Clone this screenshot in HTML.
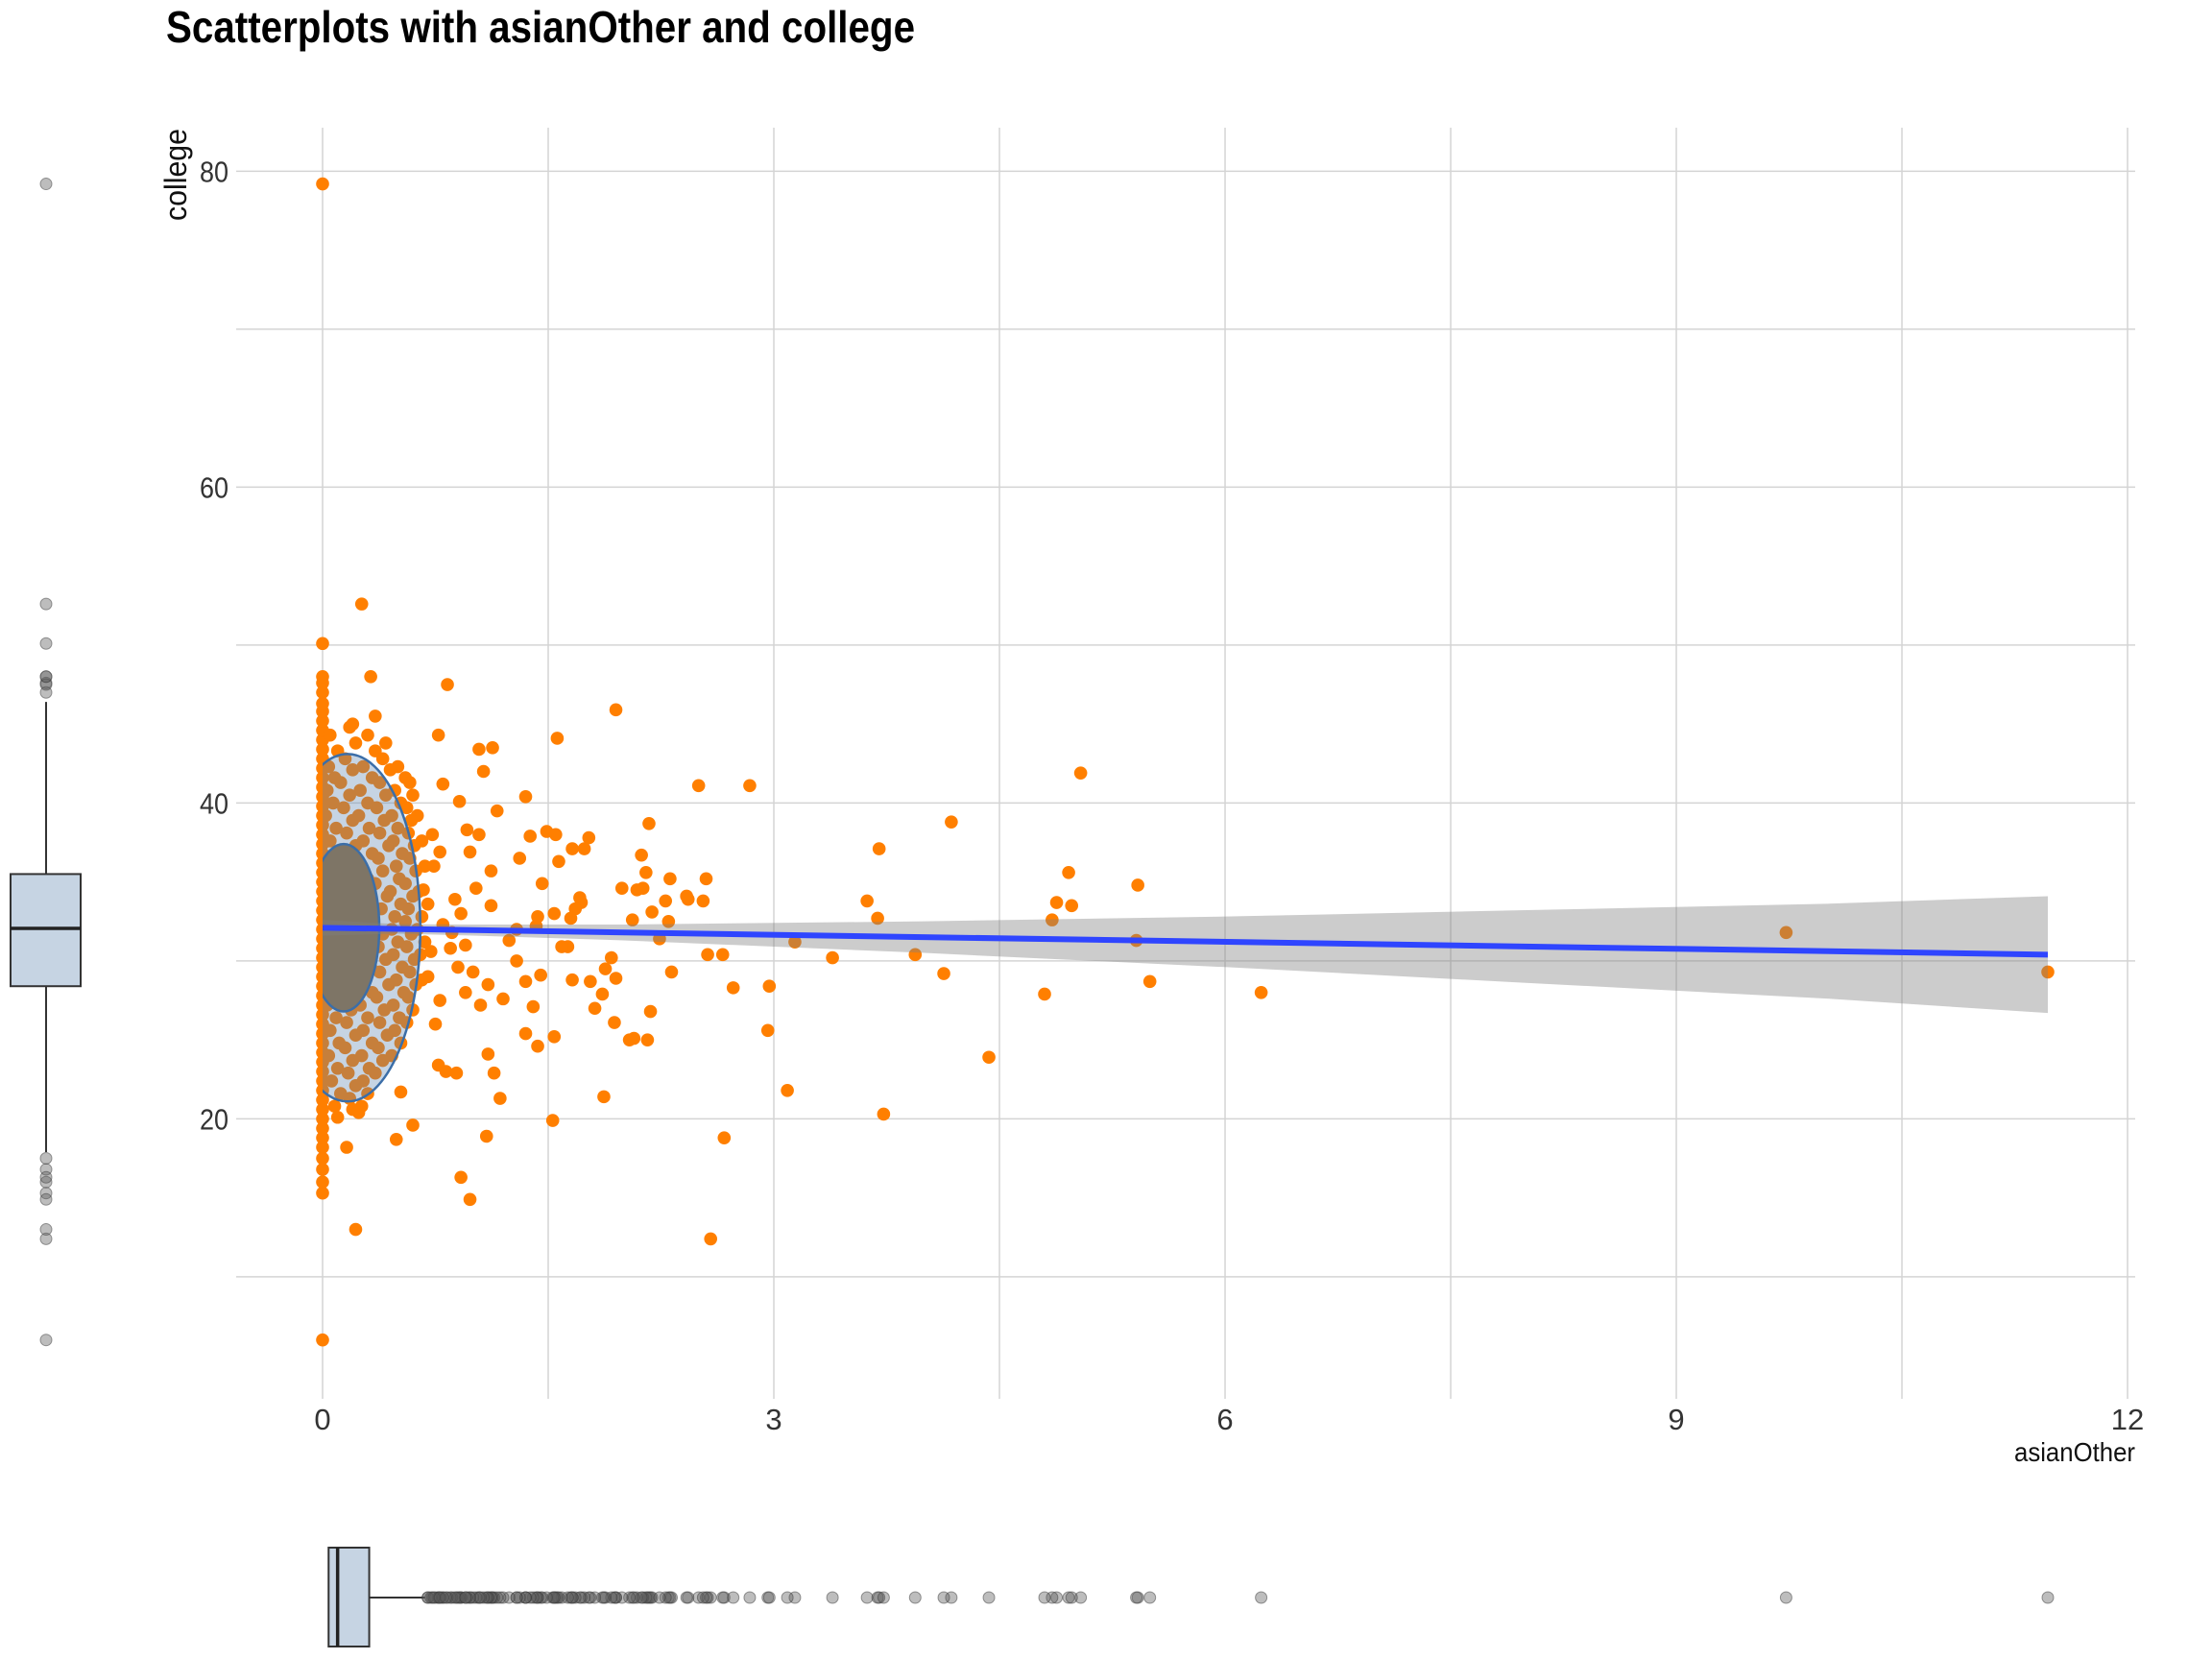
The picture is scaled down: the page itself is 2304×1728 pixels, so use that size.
<!DOCTYPE html>
<html><head><meta charset="utf-8">
<style>
html,body{margin:0;padding:0;background:#fff;}
svg{display:block;}
text{font-family:"Liberation Sans Narrow","Liberation Sans",sans-serif;}
</style></head>
<body>
<svg id="chart" width="2304" height="1728" viewBox="0 0 2304 1728" xmlns="http://www.w3.org/2000/svg">
<text x="173" y="44" font-size="46" font-weight="bold" fill="#000" textLength="780" lengthAdjust="spacingAndGlyphs">Scatterplots with asianOther and college</text>
<text transform="translate(194,182) rotate(-90)" text-anchor="middle" font-size="32" fill="#111" textLength="96" lengthAdjust="spacingAndGlyphs">college</text>
<text x="2224" y="1522" text-anchor="end" font-size="28" fill="#111" textLength="126" lengthAdjust="spacingAndGlyphs">asianOther</text>
<g id="grid"></g>
<g id="ticks"></g>
<g id="points"></g>
<g id="overlay"></g>
<g id="fit"></g>
<g id="ybox"></g>
<g id="xbox"></g>
</svg>
<script>
// ---- data ----
const xTicks = [0, 3, 6, 9, 12];
const xGrid = [0, 1.5, 3, 4.5, 6, 7.5, 9, 10.5, 12];
const yTicks = [20, 40, 60, 80];
const yGrid = [10, 20, 30, 40, 50, 60, 70, 80];
const outerX = [9.73,11.47,6.24,5.5,5.42,5.41,5.04,4.96,4.98,4.88,4.85,4.8,4.43,4.18,4.13,3.94,3.7,3.69,3.62,3.73,3.39,3.14,3.09,2.96,2.97,2.84,2.67,2.58,2.5,2.66,2.73,2.56,2.55,2.53,2.43,2.42,2.32,2.3,2.31,2.28,2.24,2.19,2.18,2.16,2.17,2.13,2.15,2.09,2.12,2.06,2.07,2.04,1.95,1.99,1.95,1.94,1.92,1.88,1.87,1.86,1.81,1.78,1.77,1.74,1.72,1.71,1.68,1.66,1.65,1.66,1.63,1.59,1.55,1.57,1.54,1.56,1.53,1.54,1.49,1.46,1.45,1.43,1.43,1.42,1.4,1.38,1.35,1.35,1.35,1.31,1.29,1.29,1.24,1.2,1.18,1.14,1.16,1.13,1.12,1.12,1.1,1.1,1.09,1.07,1.04,1.04,1.02,1.0,0.98,0.98,0.96,0.92,0.92,0.91,0.89,0.86,0.83,0.8,0.78,0.77,0.77,0.73,0.7,0.67,0.6,0.52,0.49,0.32,0.26,0.22,0.24,0.16,0,0,0,0.85,0.9,0.95,1.05,0.75,0.8,0.72,0.88,0.95,0.74,0.78,0.82];
const outerY = [31.8,29.3,28.0,28.7,34.8,31.3,41.9,35.6,33.5,33.7,32.6,27.9,23.9,38.8,29.2,30.4,37.1,32.7,33.8,20.3,30.2,31.2,21.8,25.6,28.4,41.1,18.8,12.4,41.1,30.4,28.3,30.4,35.2,33.8,33.9,34.1,29.3,32.5,35.2,33.8,31.4,33.1,26.8,25.0,38.7,34.6,35.6,34.5,36.7,32.6,25.1,25.0,45.9,34.6,28.9,26.1,30.2,29.5,21.4,27.9,27.0,28.7,37.8,37.1,33.7,34.0,33.3,37.1,32.7,28.8,30.9,30.9,38.0,36.3,33.0,44.1,19.9,25.2,38.2,34.9,29.1,32.8,24.6,32.2,27.1,37.9,40.4,28.7,25.4,36.5,32.0,30.0,31.3,27.6,21.3,22.9,39.5,43.5,35.7,33.5,28.5,24.1,18.9,42.0,43.4,38.0,34.6,29.3,14.9,36.9,38.3,33.0,16.3,40.1,22.9,31.8,47.5,41.2,36.9,44.3,23.4,38.0,29.0,34.5,19.6,21.7,18.7,48.0,52.6,13.0,20.4,18.2,79.2,6.0,50.1,30.8,29.6,31.0,27.2,26.0,32.3,30.6,33.9,28.0,36.0,27.5,23.0];
const zeroColY = [15.3,16.0,16.8,17.5,18.2,18.8,19.4,20.0,20.6,21.2,21.8,22.4,23.0,23.6,24.2,24.8,25.4,26.0,26.6,27.2,27.8,28.4,29.0,29.6,30.2,30.8,31.4,32.0,32.6,33.2,33.8,34.4,35.0,35.6,36.2,36.8,37.4,38.0,38.6,39.2,39.8,40.4,41.0,41.6,42.2,42.8,43.4,44.0,44.6,45.2,45.8,46.3,47.0,47.6,48.0];
const clusterRowY = [45.2,44.5,43.5,42.5,41.8,41,40.2,39.4,38.6,37.8,37,36.2,35.4,34.6,33.8,33,32.2,31.4,30.6,29.8,29,28.2,27.4,26.6,25.8,25,24.2,23.4,22.6,21.8,21,20.3];
const clusterRowX = [
 [0.2,0.35],[0.05,0.18,0.3],[0.1,0.22,0.35,0.42],[0.04,0.15,0.27,0.4,0.5],[0.08,0.2,0.33,0.45,0.55],
 [0.03,0.12,0.25,0.38,0.48,0.58],[0.07,0.18,0.3,0.42,0.52,0.6],[0.02,0.14,0.24,0.36,0.46,0.56,0.63],
 [0.09,0.2,0.31,0.41,0.5,0.59],[0.05,0.16,0.27,0.38,0.47,0.57,0.66],[0.11,0.22,0.33,0.44,0.53,0.61],
 [0.03,0.15,0.26,0.37,0.49,0.58,0.68],[0.08,0.19,0.3,0.4,0.51,0.62],[0.04,0.13,0.24,0.35,0.45,0.55,0.64],
 [0.1,0.21,0.32,0.43,0.52,0.6,0.7],[0.06,0.17,0.28,0.39,0.48,0.57,0.66],[0.02,0.12,0.23,0.34,0.46,0.55,0.63],
 [0.08,0.19,0.29,0.4,0.5,0.59,0.68],[0.04,0.15,0.26,0.37,0.47,0.56,0.65],[0.1,0.21,0.32,0.42,0.53,0.61],
 [0.05,0.16,0.27,0.38,0.49,0.58,0.66],[0.12,0.22,0.33,0.44,0.54,0.62],[0.03,0.14,0.25,0.36,0.47,0.57],
 [0.09,0.19,0.3,0.41,0.51,0.6],[0.05,0.16,0.27,0.38,0.48,0.56],[0.11,0.22,0.33,0.43,0.52],
 [0.04,0.15,0.26,0.37,0.46],[0.1,0.2,0.31,0.4],[0.06,0.17,0.27,0.35],[0.12,0.22,0.3],[0.08,0.18,0.26],[0.1,0.2]
];
const fitX = [0, 11.47];
const fitY = [32.1, 30.4];
const bandX = [0, 0.5, 1, 2, 4, 6, 8, 10, 11.47];
const bandHalf = [0.5, 0.3, 0.35, 0.5, 1.0, 1.6, 2.3, 3.0, 3.7];
const outerEll = [0.166, 32.1, 0.484, 11.0];
const innerEll = [0.14, 32.1, 0.237, 5.3];
const yBoxStats = [17.9, 28.4, 32.06, 35.5, 46.4];
const xBoxStats = [0, 0.04, 0.1, 0.31, 0.68];

// ---- scales ----
const X0 = 336, XU = 156.67, Y40 = 836.4, YU = 16.45;
const sx = v => X0 + v * XU;
const sy = v => Y40 - (v - 40) * YU;
const NS = 'http://www.w3.org/2000/svg';
function mk(tag, attrs, parent) {
  const e = document.createElementNS(NS, tag);
  for (const k in attrs) e.setAttribute(k, attrs[k]);
  parent.appendChild(e);
  return e;
}
const grid = document.getElementById('grid');
yGrid.forEach(v => {
  const l = mk('line', {x1: 246, x2: 2224, y1: sy(v), y2: sy(v), stroke: '#d4d4d4', 'stroke-width': 1.5}, grid);
  
  
});
xGrid.forEach(v => {
  const l = mk('line', {x1: sx(v), x2: sx(v), y1: 133, y2: 1457, stroke: '#d4d4d4', 'stroke-width': 1.5}, grid);
  
  
});
const ticks = document.getElementById('ticks');
yTicks.forEach(v => {
  const t = mk('text', {x: 238, y: sy(v) + 11, 'text-anchor': 'end', 'font-size': 31, fill: '#333', textLength: 30, lengthAdjust: 'spacingAndGlyphs'}, ticks);
  t.textContent = v;
  
  
});
xTicks.forEach(v => {
  const t = mk('text', {x: sx(v), y: 1489, 'text-anchor': 'middle', 'font-size': 31, fill: '#333'}, ticks);
  t.textContent = v;
  
  
});

// all points
const allX = [], allY = [];
zeroColY.forEach(y => { allX.push(0); allY.push(y); });
clusterRowY.forEach((y, i) => clusterRowX[i].forEach((x, j) => { allX.push(x); allY.push(y + ((j % 2) ? 0.3 : -0.2)); }));
outerX.forEach((x, i) => { allX.push(x); allY.push(outerY[i]); });

const pts = document.getElementById('points');
allX.forEach((x, i) => {
  const c = mk('circle', {cx: sx(x), cy: sy(allY[i]), r: 6.8, fill: '#ff7f00'}, pts);
  
  
});

// ellipses (clipped at x = 0)
const defs = mk('defs', {}, document.getElementById('chart'));
const cp = mk('clipPath', {id: 'clipx'}, defs);
mk('rect', {x: sx(0), y: 0, width: 2304, height: 1728}, cp);
const ov = document.getElementById('overlay');
ov.setAttribute('clip-path', 'url(#clipx)');
const oe = mk('ellipse', {cx: sx(outerEll[0]), cy: sy(outerEll[1]), rx: outerEll[2] * XU, ry: outerEll[3] * YU, fill: 'rgba(88,129,173,0.34)', stroke: '#3b6ea8', 'stroke-width': 2.5}, ov);


const ie = mk('ellipse', {cx: sx(innerEll[0]), cy: sy(innerEll[1]), rx: innerEll[2] * XU, ry: innerEll[3] * YU, fill: '#7e7566', stroke: '#3b6ea8', 'stroke-width': 2.5}, ov);



// regression band + line
const fit = document.getElementById('fit');
const lineAt = x => fitY[0] + (fitY[1] - fitY[0]) * (x - fitX[0]) / (fitX[1] - fitX[0]);
let up = [], lo = [];
bandX.forEach((x, i) => {
  up.push(sx(x) + ',' + sy(lineAt(x) + bandHalf[i]));
  lo.unshift(sx(x) + ',' + sy(lineAt(x) - bandHalf[i]));
});
const band = mk('polygon', {points: up.concat(lo).join(' '), fill: 'rgba(128,128,128,0.4)'}, fit);


const fl = mk('line', {x1: sx(fitX[0]), y1: sy(fitY[0]), x2: sx(fitX[1]), y2: sy(fitY[1]), stroke: '#2f45ff', 'stroke-width': 6}, fit);



// left boxplot (college)
const yb = document.getElementById('ybox');
const bcx = 48;
const yw1 = mk('line', {x1: bcx, x2: bcx, y1: sy(yBoxStats[4]), y2: sy(yBoxStats[3]), stroke: '#333', 'stroke-width': 2}, yb);


const yw2 = mk('line', {x1: bcx, x2: bcx, y1: sy(yBoxStats[1]), y2: sy(yBoxStats[0]), stroke: '#333', 'stroke-width': 2}, yb);


const yr = mk('rect', {x: 11, y: sy(yBoxStats[3]), width: 73, height: sy(yBoxStats[1]) - sy(yBoxStats[3]), fill: '#c6d4e3', stroke: '#333', 'stroke-width': 2}, yb);


const ym = mk('line', {x1: 11, x2: 84, y1: sy(yBoxStats[2]), y2: sy(yBoxStats[2]), stroke: '#222', 'stroke-width': 3.5}, yb);


allY.forEach(y => {
  if (y > yBoxStats[4] || y < yBoxStats[0]) {
    const c = mk('circle', {cx: bcx, cy: sy(y), r: 6, fill: 'rgba(90,90,90,0.4)', stroke: 'rgba(60,60,60,0.5)', 'stroke-width': 1}, yb);
    
    
  }
});

// bottom boxplot (asianOther)
const xb = document.getElementById('xbox');
const bcy = 1664;
const xw = mk('line', {x1: sx(xBoxStats[3]), x2: sx(xBoxStats[4]), y1: bcy, y2: bcy, stroke: '#333', 'stroke-width': 2}, xb);


const xr = mk('rect', {x: sx(xBoxStats[1]), y: 1612, width: sx(xBoxStats[3]) - sx(xBoxStats[1]), height: 103, fill: '#c6d4e3', stroke: '#333', 'stroke-width': 2}, xb);


const xm = mk('line', {x1: sx(xBoxStats[2]), x2: sx(xBoxStats[2]), y1: 1612, y2: 1715, stroke: '#222', 'stroke-width': 3.5}, xb);


allX.forEach(x => {
  if (x > xBoxStats[4]) {
    const c = mk('circle', {cx: sx(x), cy: bcy, r: 6, fill: 'rgba(90,90,90,0.4)', stroke: 'rgba(60,60,60,0.5)', 'stroke-width': 1}, xb);
    
    
  }
});
</script>
</body></html>
